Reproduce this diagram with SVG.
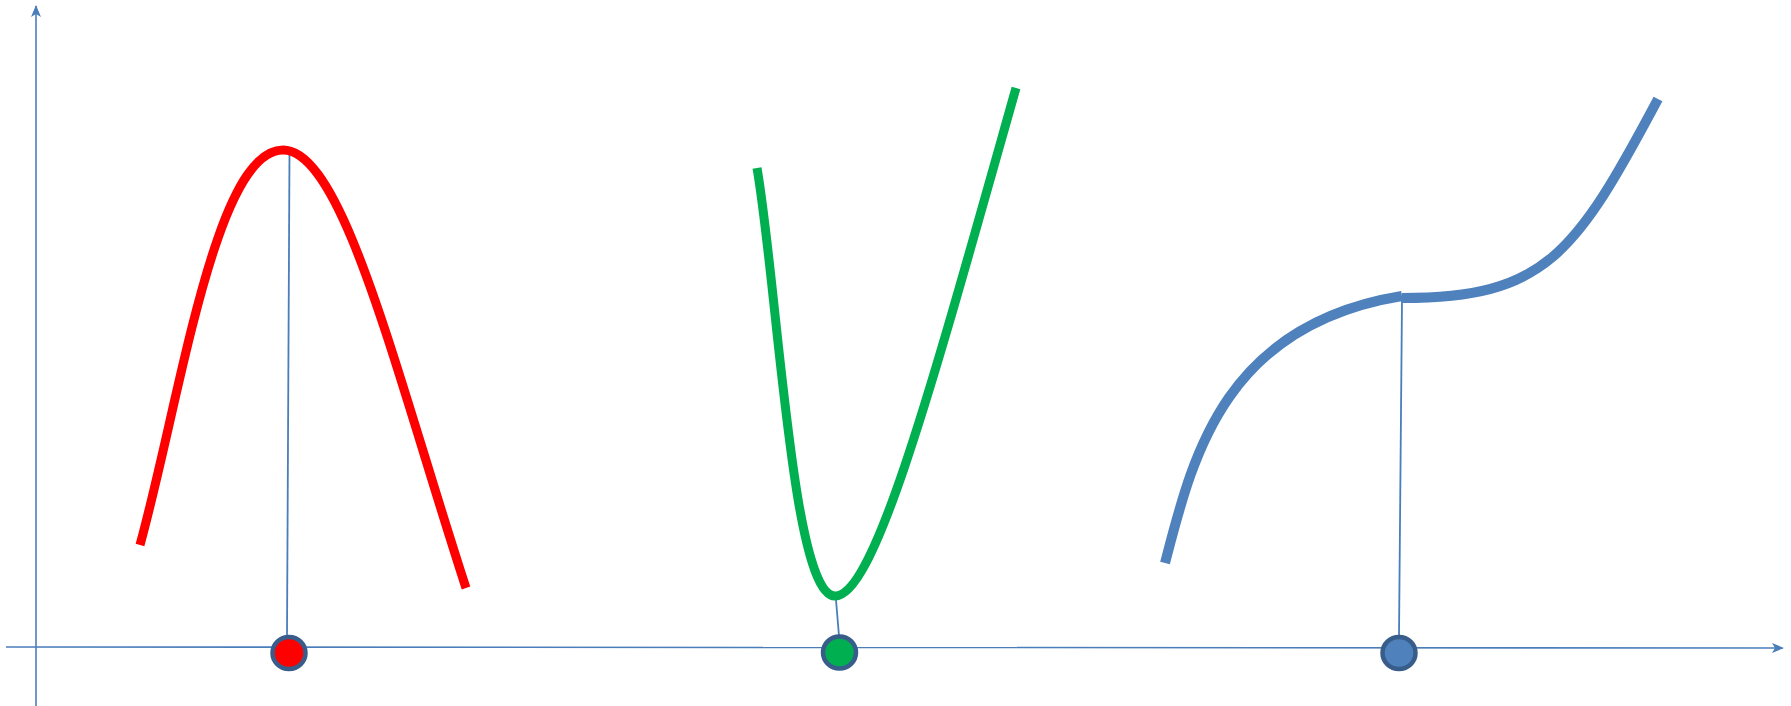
<svg xmlns="http://www.w3.org/2000/svg" width="1791" height="706" viewBox="0 0 1791 706">
<style>
.axis{stroke:#4a7ebb;stroke-width:1.6;fill:none}
.guide{stroke:#4a7ebb;stroke-width:1.8;fill:none}
.dot{stroke:#385d8a;stroke-width:4.5}
.curve{fill:none;stroke-linecap:butt}
</style>
<defs>
<marker id="arr" viewBox="0 0 12 10" refX="11" refY="5" markerWidth="12" markerHeight="10" markerUnits="userSpaceOnUse" orient="auto">
<path d="M0,0 L12,5 L0,10 L3,5 Z" fill="#4a7ebb"/>
</marker>
</defs>
<rect width="1791" height="706" fill="#ffffff"/>
<g id="connectors">
<line class="axis" x1="6" y1="647" x2="1783" y2="648" marker-end="url(#arr)"/>
<line class="axis" x1="36" y1="706" x2="36" y2="6" marker-end="url(#arr)"/>
<line class="guide" x1="289.5" y1="152" x2="287" y2="636"/>
<line class="guide" x1="836" y1="600" x2="839" y2="636"/>
<line class="guide" x1="1402" y1="300" x2="1399" y2="636"/>
</g>
<g id="red-curve">
<path class="curve" stroke="#ff0000" stroke-width="9" d="M140,545 C180,400 215,150 283,150 C343,150 395,370 466,588"/>
</g>
<g id="green-curve">
<path class="curve" stroke="#00b050" stroke-width="9" d="M757,168 C778,290 792,596 835,596 C875,596 932,385 1016,88"/>
</g>
<g id="blue-curve">
<path class="curve" stroke="#4f81bd" stroke-width="10" d="M1165,563 C1192,460 1222,325 1402,296"/>
<path class="curve" stroke="#4f81bd" stroke-width="10" d="M1402,298 C1545,298 1575,255 1658,99"/>
</g>
<g id="node-red"><ellipse class="dot" cx="289" cy="653" rx="16.5" ry="16" fill="#ff0000"/></g>
<g id="node-green"><ellipse class="dot" cx="839.5" cy="652.5" rx="16.5" ry="16" fill="#00b050"/></g>
<g id="node-blue"><ellipse class="dot" cx="1399" cy="653" rx="16.5" ry="16" fill="#4f81bd"/></g>
</svg>
